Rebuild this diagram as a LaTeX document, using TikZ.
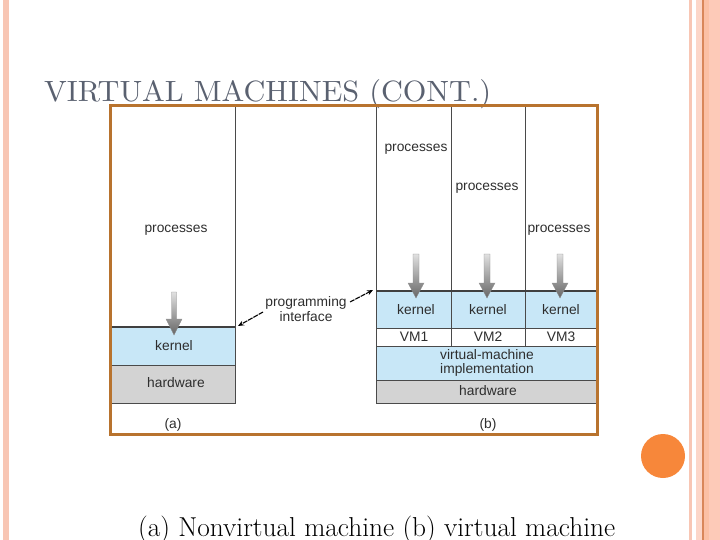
\documentclass[tikz,border=0pt]{standalone}
\usepackage{fontspec}
\newfontfamily\diag{Liberation Sans}
\usetikzlibrary{arrows.meta}
\definecolor{frameC}{HTML}{B8732E}
\definecolor{kblue}{HTML}{C8E7F7}
\definecolor{hwgrey}{HTML}{D3D3D3}
\definecolor{lineC}{HTML}{4A4A4A}
\definecolor{titleC}{HTML}{5A6170}
\definecolor{pinkA}{HTML}{F8C6B4}
\definecolor{pinkB}{HTML}{FDCAB8}
\definecolor{pinkC}{HTML}{FCD6C8}
\definecolor{pinkD}{HTML}{FBC0A5}
\definecolor{lineO}{HTML}{D9875A}
\definecolor{dotC}{HTML}{F7873A}
\definecolor{txtC}{HTML}{2E2E2E}
\tikzset{
  lbl/.style={font=\diag\fontsize{13.8}{14.5}\selectfont, text=txtC, inner sep=0pt, align=center},
  grid/.style={draw=lineC, line width=0.8pt},
  thickl/.style={draw=black!75, line width=1.4pt},
  kfill/.style={fill=kblue},
  hfill/.style={fill=hwgrey},
  piarrow/.style={draw=black, line width=1.1pt, dash pattern=on 5pt off 1pt, -{Stealth[length=6pt,width=5pt]}},
  garrow/.style={top color=black!12, bottom color=black!60, draw=black!45, line width=0.3pt}
}
\begin{document}
\begin{tikzpicture}[x=1pt,y=-1pt]
\useasboundingbox (0,0) rectangle (720,540);
% slide decorations
\fill[pinkA] (3,0) rectangle (9,540);
\fill[pinkA] (689,0) rectangle (692,540);
\fill[pinkB] (696,0) rectangle (720,540);
\fill[pinkC] (696,0) rectangle (702,540);
\fill[lineO] (702,0) rectangle (703.5,540);
\fill[pinkD] (703.5,0) rectangle (709,540);
\fill[dotC] (663,456) circle (22);
% title
\node[anchor=base west, inner sep=0pt, text=titleC] (title) at (44,102)
  {\resizebox{447pt}{22pt}{VIRTUAL MACHINES (CONT.)}};
% ---------- (a) ----------
\fill[kfill] (112,327) rectangle (235,365);
\fill[hfill] (112,365) rectangle (235,403);
\draw[grid] (235,107) -- (235,403) -- (112,403);
\draw[grid] (112,365) -- (235,365);
\draw[thickl] (112,327) -- (235,327);
\node[lbl] (procA) at (176,230) {processes};
\node[lbl] (kerA) at (174,346) {kernel};
\node[lbl] (hwA) at (176,383) {hardware};
\node[lbl] (capA) at (173,425) {(a)};
\path[garrow] (171.5,292) -- (176.5,292) -- (176.5,319) -- (182,319) -- (174,335) -- (166,319) -- (171.5,319) -- cycle;
% ---------- (b) ----------
\fill[kfill] (376,291) rectangle (596,328);
\fill[white] (376,328) rectangle (596,346);
\fill[kfill] (376,346) rectangle (596,380);
\fill[hfill] (376,380) rectangle (596,403);
\draw[grid] (376,107) -- (376,403) -- (596,403);
\draw[grid] (451,107) -- (451,346);
\draw[grid] (525,107) -- (525,346);
\draw[grid] (376,328) -- (596,328);
\draw[grid] (376,346) -- (596,346);
\draw[grid] (376,380) -- (596,380);
\draw[thickl] (376,291) -- (596,291);
\node[lbl] (procB1) at (416,149) {processes};
\node[lbl] (procB2) at (487,188) {processes};
\node[lbl] (procB3) at (559,230) {processes};
\node[lbl] (kerB1) at (416,310) {kernel};
\node[lbl] (kerB2) at (488,310) {kernel};
\node[lbl] (kerB3) at (561,310) {kernel};
\node[lbl] (vm1) at (414,337) {VM1};
\node[lbl] (vm2) at (488,337) {VM2};
\node[lbl] (vm3) at (561,337) {VM3};
\node[lbl] (vmi) at (487,363) {virtual-machine\\implementation};
\node[lbl] (hwB) at (488,391) {hardware};
\node[lbl] (capB) at (488,425) {(b)};
\foreach \x in {416,487,560}{
  \path[garrow] (\x-3,254) -- (\x+3,254) -- (\x+3,283) -- (\x+8,283) -- (\x,298) -- (\x-8,283) -- (\x-3,283) -- cycle;
}
% programming interface
\node[lbl] (pi) at (306,309) {programming\\interface};
\coordinate (piA) at (238,326);
\coordinate (piB) at (373,290);
\draw[piarrow] (263,312) -- (piA);
\draw[piarrow] (350,302) -- (piB);
% frame
\draw[frameC, line width=3pt] (110.5,105.5) rectangle (597.5,434);
% caption
\node[anchor=base west, inner sep=0pt] (cap) at (138,536)
  {\resizebox{477pt}{!}{\fontsize{26}{28}\selectfont (a) Nonvirtual machine (b) virtual machine}};
\end{tikzpicture}
\end{document}
